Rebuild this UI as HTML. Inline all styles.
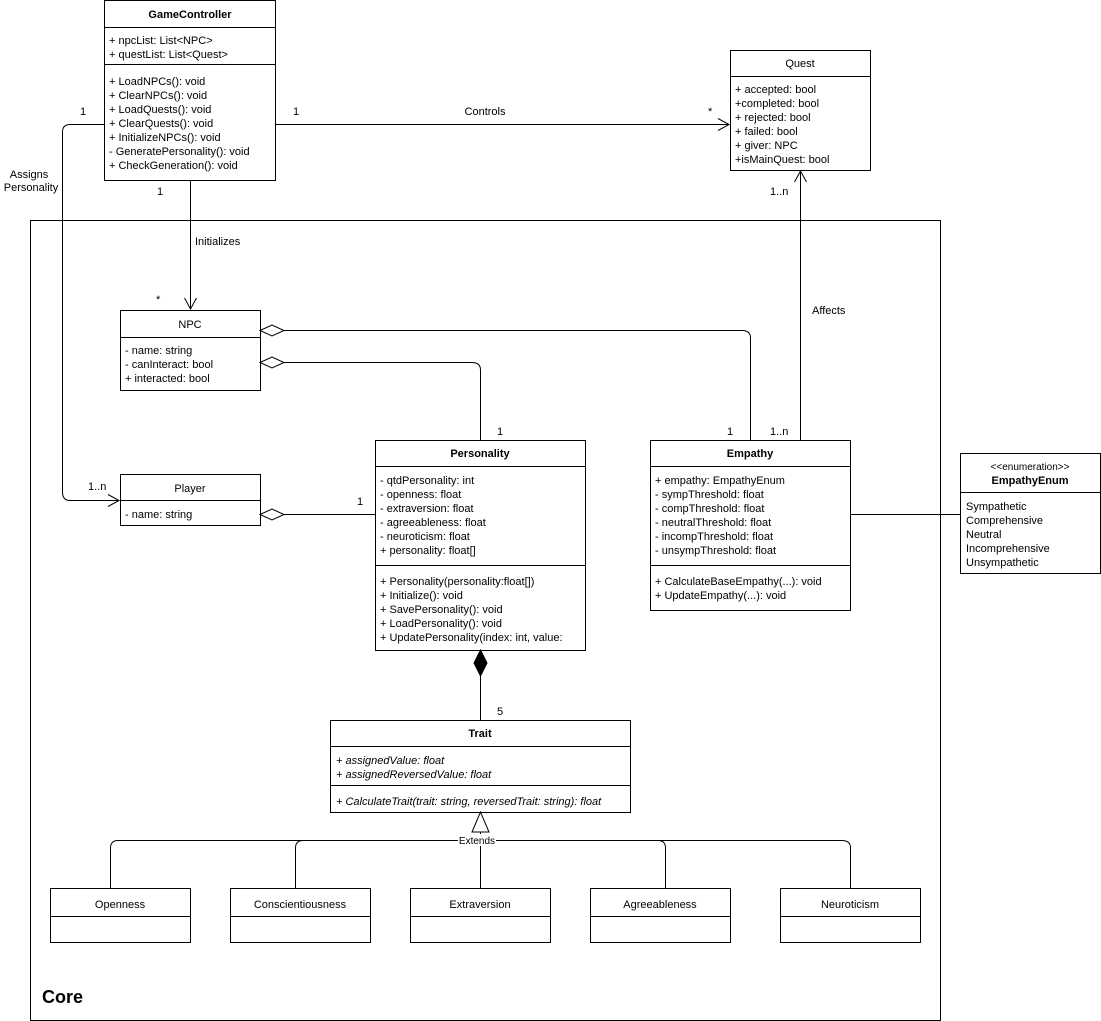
<!DOCTYPE html>
<html><head><meta charset="utf-8"><style>
html,body{margin:0;padding:0;background:#fff}
svg{display:block}
text{font-family:"Liberation Sans",Arial,sans-serif;font-size:11px;fill:#000}
.b{font-weight:bold}
.c{text-anchor:middle}
.i{font-style:italic}
</style></head><body>
<svg width="1101" height="1021" viewBox="0 0 1101 1021" xmlns="http://www.w3.org/2000/svg">
<defs>
<marker id="oa" markerWidth="14" markerHeight="14" refX="12" refY="7" orient="auto" markerUnits="userSpaceOnUse">
<path d="M1,1 L12,7 L1,13" fill="none" stroke="#000" stroke-width="1"/></marker>
</defs>
<g fill="none" stroke="#000" stroke-width="1">
<!-- Core frame -->
<rect x="30.5" y="220.5" width="910" height="800"/>
<!-- GameController -->
<rect x="104.5" y="0.5" width="171" height="180" fill="#fff"/>
<line x1="104" y1="27.5" x2="275" y2="27.5"/>
<line x1="104" y1="64.5" x2="275" y2="64.5"/>
<!-- Quest -->
<rect x="730.5" y="50.5" width="140" height="120" fill="#fff"/>
<line x1="730" y1="76.5" x2="870" y2="76.5"/>
<!-- NPC -->
<rect x="120.5" y="310.5" width="140" height="80" fill="#fff"/>
<line x1="120" y1="337.5" x2="260" y2="337.5"/>
<!-- Player -->
<rect x="120.5" y="474.5" width="140" height="51" fill="#fff"/>
<line x1="120" y1="500.5" x2="260" y2="500.5"/>
<!-- Personality -->
<rect x="375.5" y="440.5" width="210" height="210" fill="#fff"/>
<line x1="375" y1="466.5" x2="585" y2="466.5"/>
<line x1="375" y1="565.5" x2="585" y2="565.5"/>
<!-- Empathy -->
<rect x="650.5" y="440.5" width="200" height="170" fill="#fff"/>
<line x1="650" y1="466.5" x2="850" y2="466.5"/>
<line x1="650" y1="565.5" x2="850" y2="565.5"/>
<!-- EmpathyEnum -->
<rect x="960.5" y="453.5" width="140" height="120" fill="#fff"/>
<line x1="960" y1="492.5" x2="1100" y2="492.5"/>
<!-- Trait -->
<rect x="330.5" y="720.5" width="300" height="92" fill="#fff"/>
<line x1="330" y1="746.5" x2="630" y2="746.5"/>
<line x1="330" y1="785.5" x2="630" y2="785.5"/>
<!-- subclasses -->
<rect x="50.5" y="888.5" width="140" height="54"/><line x1="50" y1="916.5" x2="190" y2="916.5"/>
<rect x="230.5" y="888.5" width="140" height="54"/><line x1="230" y1="916.5" x2="370" y2="916.5"/>
<rect x="410.5" y="888.5" width="140" height="54"/><line x1="410" y1="916.5" x2="550" y2="916.5"/>
<rect x="590.5" y="888.5" width="140" height="54"/><line x1="590" y1="916.5" x2="730" y2="916.5"/>
<rect x="780.5" y="888.5" width="140" height="54"/><line x1="780" y1="916.5" x2="920" y2="916.5"/>

<!-- connectors -->
<line x1="275" y1="124.5" x2="729" y2="124.5" marker-end="url(#oa)"/>
<line x1="190.5" y1="180" x2="190.5" y2="309" marker-end="url(#oa)"/>
<path d="M104,124.5 H70 Q62.5,124.5 62.5,132 V492 Q62.5,500.5 70,500.5 H119" marker-end="url(#oa)"/>
<path d="M284,330.5 H742 Q750.5,330.5 750.5,338 V440"/>
<path d="M260,330.5 L272,325 L284,330.5 L272,336 Z" fill="#fff"/>
<path d="M284,362.5 H472 Q480.5,362.5 480.5,370 V440"/>
<path d="M260,362.5 L272,357 L284,362.5 L272,368 Z" fill="#fff"/>
<path d="M284,514.5 H375"/>
<path d="M260,514.5 L272,509 L284,514.5 L272,520 Z" fill="#fff"/>
<line x1="800.5" y1="440" x2="800.5" y2="171" marker-end="url(#oa)"/>
<line x1="850" y1="514.5" x2="960" y2="514.5"/>
<path d="M480.5,650 L474,663 L480.5,676 L487,663 Z" fill="#000"/>
<line x1="480.5" y1="676" x2="480.5" y2="720"/>
<path d="M480.5,812 L472,832 L489,832 Z" fill="#fff"/>
<line x1="480.5" y1="832" x2="480.5" y2="888"/>
<path d="M110.5,888 V848 Q110.5,840.5 118,840.5 H842 Q850.5,840.5 850.5,848 V888"/>
<path d="M295.5,888 V848 Q295.5,840.5 303,840.5"/>
<path d="M665.5,888 V848 Q665.5,840.5 658,840.5"/>
</g>
<rect x="458" y="834" width="38" height="12" fill="#fff"/>
<text x="477" y="844" class="c" style="font-size:10px">Extends</text>

<!-- GameController text -->
<text x="190" y="18" class="c b">GameController</text>
<text x="109" y="44">+ npcList: List&lt;NPC&gt;</text>
<text x="109" y="58">+ questList: List&lt;Quest&gt;</text>
<text x="109" y="85">+ LoadNPCs(): void</text>
<text x="109" y="99">+ ClearNPCs(): void</text>
<text x="109" y="113">+ LoadQuests(): void</text>
<text x="109" y="127">+ ClearQuests(): void</text>
<text x="109" y="141">+ InitializeNPCs(): void</text>
<text x="109" y="155">- GeneratePersonality(): void</text>
<text x="109" y="169">+ CheckGeneration(): void</text>
<!-- Quest -->
<text x="800" y="67" class="c">Quest</text>
<text x="735" y="93">+ accepted: bool</text>
<text x="735" y="107">+completed: bool</text>
<text x="735" y="121">+ rejected: bool</text>
<text x="735" y="135">+ failed: bool</text>
<text x="735" y="149">+ giver: NPC</text>
<text x="735" y="163">+isMainQuest: bool</text>
<!-- NPC -->
<text x="190" y="328" class="c">NPC</text>
<text x="125" y="354">- name: string</text>
<text x="125" y="368">- canInteract: bool</text>
<text x="125" y="382">+ interacted: bool</text>
<!-- Player -->
<text x="190" y="492" class="c">Player</text>
<text x="125" y="518">- name: string</text>
<!-- Personality -->
<text x="480" y="457" class="c b">Personality</text>
<text x="380" y="484">- qtdPersonality: int</text>
<text x="380" y="498">- openness: float</text>
<text x="380" y="512">- extraversion: float</text>
<text x="380" y="526">- agreeableness: float</text>
<text x="380" y="540">- neuroticism: float</text>
<text x="380" y="554">+ personality: float[]</text>
<text x="380" y="585">+ Personality(personality:float[])</text>
<text x="380" y="599">+ Initialize(): void</text>
<text x="380" y="613">+ SavePersonality(): void</text>
<text x="380" y="627">+ LoadPersonality(): void</text>
<text x="380" y="641">+ UpdatePersonality(index: int, value:</text>
<!-- Empathy -->
<text x="750" y="457" class="c b">Empathy</text>
<text x="655" y="484">+ empathy: EmpathyEnum</text>
<text x="655" y="498">- sympThreshold: float</text>
<text x="655" y="512">- compThreshold: float</text>
<text x="655" y="526">- neutralThreshold: float</text>
<text x="655" y="540">- incompThreshold: float</text>
<text x="655" y="554">- unsympThreshold: float</text>
<text x="655" y="585">+ CalculateBaseEmpathy(...): void</text>
<text x="655" y="599">+ UpdateEmpathy(...): void</text>
<!-- Enum -->
<text x="1030" y="470" class="c" style="font-size:10px">&lt;&lt;enumeration&gt;&gt;</text>
<text x="1030" y="484" class="c b">EmpathyEnum</text>
<text x="966" y="510">Sympathetic</text>
<text x="966" y="524">Comprehensive</text>
<text x="966" y="538">Neutral</text>
<text x="966" y="552">Incomprehensive</text>
<text x="966" y="566">Unsympathetic</text>
<!-- Trait -->
<text x="480" y="737" class="c b">Trait</text>
<text x="336" y="764" class="i">+ assignedValue: float</text>
<text x="336" y="778" class="i">+ assignedReversedValue: float</text>
<text x="336" y="805" class="i">+ CalculateTrait(trait: string, reversedTrait: string): float</text>
<!-- subclasses -->
<text x="120" y="908" class="c">Openness</text>
<text x="300" y="908" class="c">Conscientiousness</text>
<text x="480" y="908" class="c">Extraversion</text>
<text x="660" y="908" class="c">Agreeableness</text>
<text x="850" y="908" class="c">Neuroticism</text>
<!-- labels -->
<text x="293" y="115">1</text>
<text x="708" y="115">*</text>
<text x="485" y="115" class="c">Controls</text>
<text x="80" y="115">1</text>
<text x="29" y="178" class="c">Assigns</text>
<text x="31" y="191" class="c">Personality</text>
<text x="88" y="490">1..n</text>
<text x="157" y="195">1</text>
<text x="195" y="245">Initializes</text>
<text x="156" y="303">*</text>
<text x="497" y="435">1</text>
<text x="727" y="435">1</text>
<text x="770" y="435">1..n</text>
<text x="770" y="195">1..n</text>
<text x="812" y="314">Affects</text>
<text x="357" y="505">1</text>
<text x="497" y="715">5</text>
<text x="42" y="1003" class="b" style="font-size:18px">Core</text>
</svg>
</body></html>
